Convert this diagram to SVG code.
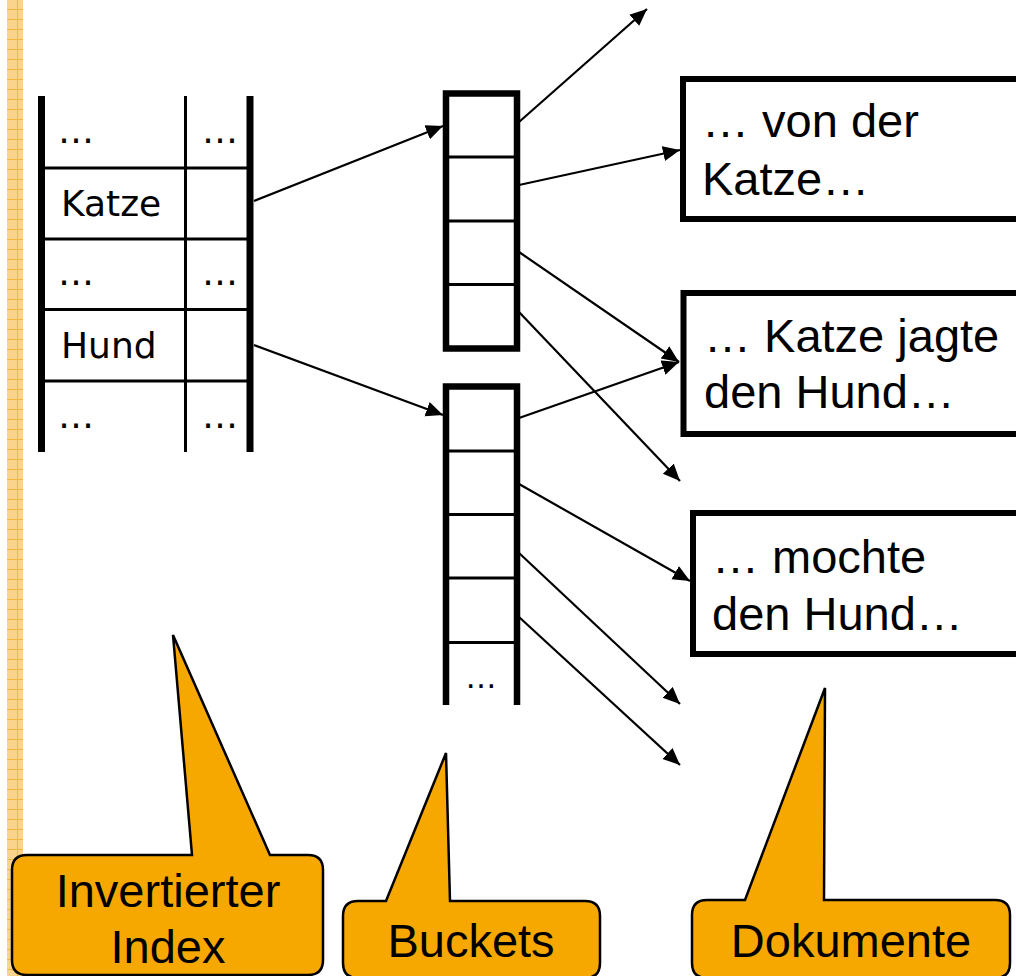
<svg xmlns="http://www.w3.org/2000/svg" width="1016" height="976" viewBox="0 0 1016 976">
  <style>
    .thick { stroke: #000; stroke-width: 7; fill: none; }
    .thin { stroke: #000; stroke-width: 3; fill: none; }
    .cell { font-family: "DejaVu Sans", Verdana, sans-serif; font-size: 36px; fill: #000; }
    .doc { font-family: "Liberation Sans", Arial, sans-serif; font-size: 47px; fill: #000; }
    .docbox { fill: #fff; stroke: #000; stroke-width: 6; }
    .callout { fill: #F7A800; stroke: #000; stroke-width: 2.5; stroke-linejoin: miter; }
    .clabel { font-family: "Liberation Sans", Arial, sans-serif; font-size: 47px; fill: #000; text-anchor: middle; }
    .conn { stroke: #000; stroke-width: 2.2; fill: none; marker-end: url(#head); }
  </style>
  <defs>
    <marker id="head" markerUnits="userSpaceOnUse" markerWidth="18" markerHeight="16" refX="17" refY="7.5" orient="auto">
      <path d="M0,0 L17,7.5 L0,15 Z" fill="#000"/>
    </marker>
    <pattern id="grid" patternUnits="userSpaceOnUse" x="7" y="0" width="16" height="10">
      <rect width="16" height="10" fill="#FAD48C"/>
      <path d="M0,9.5 H16 M10.5,0 V10" stroke="#F4B63C" stroke-width="1"/>
    </pattern>
  </defs>

  <rect width="1016" height="976" fill="#fff"/>

  <!-- decorative margin strip -->
  <rect x="7" y="0" width="16" height="976" fill="url(#grid)"/>

  <!-- inverted index table -->
  <g id="index">
    <line class="thick" x1="41.5" y1="96" x2="41.5" y2="452"/>
    <line class="thick" x1="250" y1="96" x2="250" y2="452"/>
    <line class="thin" x1="185.5" y1="96" x2="185.5" y2="452"/>
    <line class="thin" x1="45" y1="168" x2="247" y2="168"/>
    <line class="thin" x1="45" y1="239" x2="247" y2="239"/>
    <line class="thin" x1="45" y1="309.5" x2="247" y2="309.5"/>
    <line class="thin" x1="45" y1="381" x2="247" y2="381"/>
    <text class="cell" x="58" y="143">…</text>
    <text class="cell" x="202" y="143">…</text>
    <text class="cell" x="61" y="216">Katze</text>
    <text class="cell" x="58" y="285">…</text>
    <text class="cell" x="202" y="285">…</text>
    <text class="cell" x="61" y="358">Hund</text>
    <text class="cell" x="58" y="428">…</text>
    <text class="cell" x="202" y="428">…</text>
  </g>

  <!-- bucket for Katze -->
  <g id="bucket-katze">
    <rect x="446" y="93.5" width="71" height="255" fill="#fff" stroke="#000" stroke-width="6.5"/>
    <line class="thin" x1="449" y1="157" x2="514" y2="157"/>
    <line class="thin" x1="449" y1="221" x2="514" y2="221"/>
    <line class="thin" x1="449" y1="284.5" x2="514" y2="284.5"/>
  </g>

  <!-- bucket for Hund (open at the bottom) -->
  <g id="bucket-hund">
    <path d="M446,705 V386.5 H517 V705" fill="#fff" stroke="#000" stroke-width="6.5"/>
    <line class="thin" x1="449" y1="451" x2="514" y2="451"/>
    <line class="thin" x1="449" y1="514.5" x2="514" y2="514.5"/>
    <line class="thin" x1="449" y1="578" x2="514" y2="578"/>
    <line class="thin" x1="449" y1="642.5" x2="514" y2="642.5"/>
    <text class="cell" x="481" y="688" text-anchor="middle" style="font-size:31px">…</text>
  </g>

  <!-- documents -->
  <g id="doc-1">
    <rect class="docbox" x="683" y="79" width="360" height="140"/>
    <text class="doc" x="702" y="137">… von der</text>
    <text class="doc" x="702" y="195">Katze…</text>
  </g>
  <g id="doc-2">
    <rect class="docbox" x="683.5" y="293" width="360" height="141"/>
    <text class="doc" x="704" y="352">… Katze jagte</text>
    <text class="doc" x="704" y="408">den Hund…</text>
  </g>
  <g id="doc-3">
    <rect class="docbox" x="693" y="513" width="360" height="141"/>
    <text class="doc" x="712" y="573">… mochte</text>
    <text class="doc" x="712" y="630">den Hund…</text>
  </g>

  <!-- connectors -->
  <g id="connectors">
    <line class="conn" x1="254" y1="201" x2="443" y2="126"/>
    <line class="conn" x1="254" y1="345" x2="443" y2="415"/>
    <line class="conn" x1="519" y1="122" x2="647" y2="9"/>
    <line class="conn" x1="519" y1="185" x2="680" y2="150"/>
    <line class="conn" x1="519" y1="252" x2="679" y2="362"/>
    <line class="conn" x1="519" y1="312" x2="680" y2="481"/>
    <line class="conn" x1="519" y1="418" x2="679" y2="362"/>
    <line class="conn" x1="519" y1="484" x2="690" y2="581"/>
    <line class="conn" x1="519" y1="553" x2="680" y2="704"/>
    <line class="conn" x1="519" y1="617" x2="680" y2="765"/>
  </g>

  <!-- callouts -->
  <g id="callout-index">
    <path class="callout" d="M27,855 H192 L173,635 L270,855 H308 Q323,855 323,870 V960 Q323,975 308,975 H27 Q12,975 12,960 V870 Q12,855 27,855 Z"/>
    <text class="clabel" x="168" y="907">Invertierter</text>
    <text class="clabel" x="168" y="963">Index</text>
  </g>
  <g id="callout-buckets">
    <path class="callout" d="M358,901 H386 L446,753 L450,901 H585 Q600,901 600,916 V963 Q600,978 585,978 H358 Q343,978 343,963 V916 Q343,901 358,901 Z"/>
    <text class="clabel" x="471" y="957">Buckets</text>
  </g>
  <g id="callout-docs">
    <path class="callout" d="M707,900 H745 L825,688 L824,900 H995 Q1010,900 1010,915 V963 Q1010,978 995,978 H707 Q692,978 692,963 V915 Q692,900 707,900 Z"/>
    <text class="clabel" x="851" y="957">Dokumente</text>
  </g>
</svg>
